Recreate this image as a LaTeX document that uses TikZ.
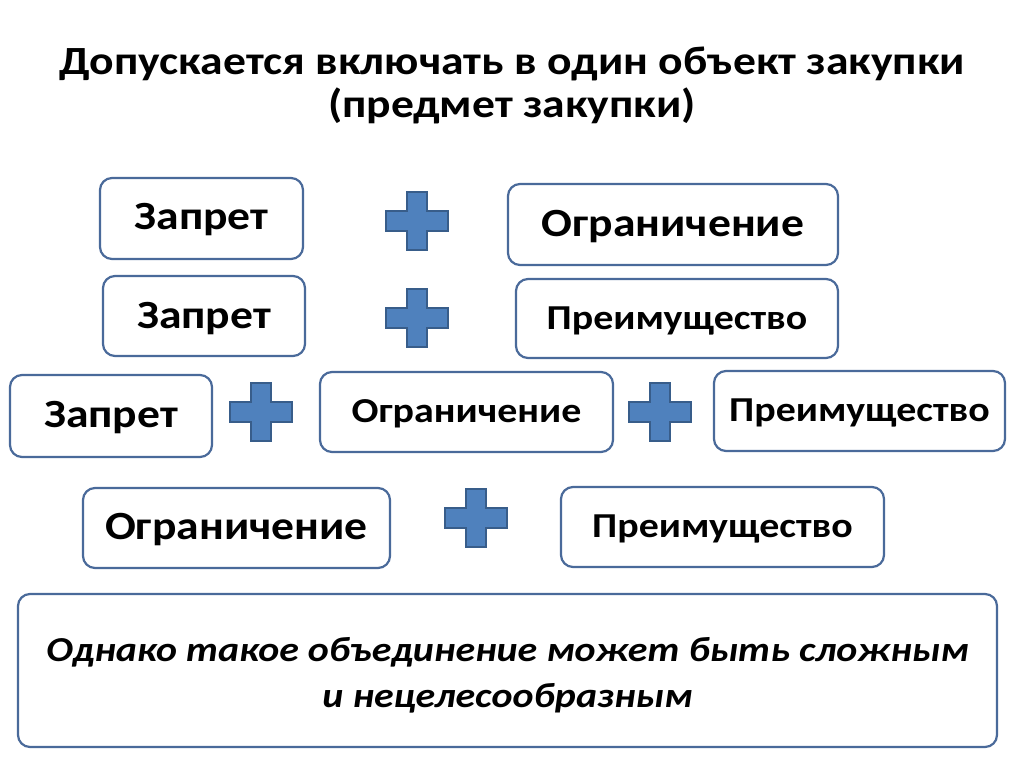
\documentclass[tikz,border=0pt]{standalone}
\usepackage{fontspec}
\setmainfont[FakeStretch=1.14]{Carlito}
\definecolor{boxline}{HTML}{4A6A9A}
\definecolor{plusfill}{HTML}{4F81BD}
\definecolor{plusline}{HTML}{385D8A}
\tikzset{
  card/.style={draw=boxline, line width=2.2pt, rounded corners=12pt, fill=white, inner sep=0pt, font=\bfseries},
  big/.style={font=\fontsize{40}{44}\selectfont\bfseries},
  small/.style={font=\fontsize{35}{40}\selectfont\bfseries},
  plus/.pic={
    \draw[fill=plusfill, draw=plusline, line width=1.3pt]
      (-10,-29) -- (10,-29) -- (10,-10) -- (31,-10) -- (31,10) -- (10,10) -- (10,29)
      -- (-10,29) -- (-10,10) -- (-31,10) -- (-31,-10) -- (-10,-10) -- cycle;
  }
}
\begin{document}
\begin{tikzpicture}[x=1pt,y=-1pt]
\useasboundingbox[fill=white] (0,0) rectangle (1024,767);
% title
\node[font=\fontsize{40}{43}\selectfont\bfseries, align=center] (title) at (512,85)
  {Допускается включать в один объект закупки\\(предмет закупки)};
% row 1
\draw[card] (100,178) rectangle (303,259);
\node[big] (z1) at (201.5,220) {Запрет};
\pic (p1) at (417,221) {plus};
\draw[card] (508,184) rectangle (838,265);
\node[big] (o1) at (673,227) {Ограничение};
% row 2
\draw[card] (103,276) rectangle (305,356);
\node[big] (z2) at (204,319) {Запрет};
\pic (p2) at (417,318) {plus};
\draw[card] (516,279) rectangle (838,358);
\node[small] (pr2) at (677,321) {Преимущество};
% row 3
\draw[card] (10,375) rectangle (212,457);
\node[big] (z3) at (111,418) {Запрет};
\pic (p3) at (261,412) {plus};
\draw[card] (320,372) rectangle (613,452);
\node[small] (o3) at (466.5,414) {Ограничение};
\pic (p4) at (660,412) {plus};
\draw[card] (714,371) rectangle (1005,451);
\node[small] (pr3) at (859.5,413) {Преимущество};
% row 4
\draw[card] (83,488) rectangle (390,568);
\node[big] (o4) at (236.5,530) {Ограничение};
\pic (p5) at (476,518) {plus};
\draw[card] (561,487) rectangle (884,567);
\node[small] (pr4) at (722.5,529) {Преимущество};
% bottom
\draw[card] (18,594) rectangle (997,747);
\node[font=\fontsize{35}{46}\selectfont\bfseries\itshape, align=center] (note) at (507.5,675)
  {Однако такое объединение может быть сложным\\и нецелесообразным};
\end{tikzpicture}
\end{document}
